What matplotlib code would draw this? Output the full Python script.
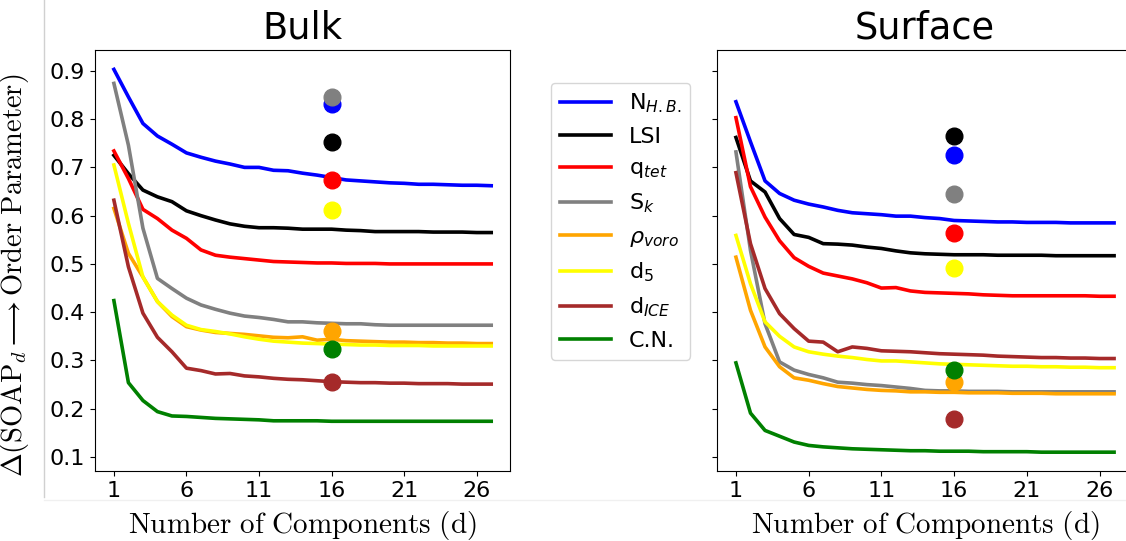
import matplotlib
matplotlib.use("Agg")
import matplotlib.pyplot as plt
from matplotlib.lines import Line2D

# Number of components
d = list(range(1, 28))
ticks_x = [1, 6, 11, 16, 21, 26]
ticks_y = [0.1, 0.2, 0.3, 0.4, 0.5, 0.6, 0.7, 0.8, 0.9]
d_marker = 16

names = ["N$_{H.B.}$", "LSI", "q$_{tet}$", "S$_k$", r"$\rho_{voro}$", "d$_5$", "d$_{ICE}$", "C.N."]
colors = ["blue", "black", "red", "gray", "orange", "yellow", "brown", "green"]

# Bulk curves
bulk_nhb = [0.903, 0.846, 0.791, 0.765, 0.748, 0.730, 0.721, 0.713, 0.707, 0.700, 0.700, 0.694, 0.693, 0.688,
            0.684, 0.679, 0.674, 0.672, 0.670, 0.668, 0.667, 0.665, 0.665, 0.664, 0.663, 0.663, 0.662]
bulk_lsi = [0.725, 0.687, 0.653, 0.639, 0.629, 0.610, 0.600, 0.591, 0.583, 0.578, 0.575, 0.575, 0.574, 0.572,
            0.572, 0.572, 0.570, 0.569, 0.567, 0.567, 0.567, 0.567, 0.566, 0.566, 0.566, 0.565, 0.565]
bulk_qtet = [0.734, 0.677, 0.613, 0.594, 0.570, 0.553, 0.529, 0.518, 0.514, 0.511, 0.508, 0.505, 0.504, 0.503,
             0.502, 0.502, 0.501, 0.501, 0.501, 0.500, 0.500, 0.500, 0.500, 0.500, 0.500, 0.500, 0.500]
bulk_sk = [0.874, 0.746, 0.574, 0.470, 0.449, 0.429, 0.415, 0.406, 0.398, 0.392, 0.389, 0.385, 0.380, 0.380,
           0.378, 0.377, 0.376, 0.376, 0.374, 0.373, 0.373, 0.373, 0.373, 0.373, 0.373, 0.373, 0.373]
bulk_rho = [0.615, 0.522, 0.473, 0.422, 0.391, 0.370, 0.363, 0.358, 0.356, 0.354, 0.351, 0.348, 0.347, 0.349,
            0.342, 0.344, 0.341, 0.340, 0.339, 0.338, 0.338, 0.337, 0.337, 0.336, 0.336, 0.335, 0.335]
bulk_d5 = [0.705, 0.584, 0.473, 0.422, 0.394, 0.373, 0.364, 0.360, 0.355, 0.349, 0.344, 0.340, 0.338, 0.336,
           0.335, 0.334, 0.333, 0.332, 0.332, 0.331, 0.331, 0.331, 0.330, 0.330, 0.330, 0.330, 0.330]
bulk_dice = [0.632, 0.494, 0.398, 0.348, 0.318, 0.284, 0.279, 0.272, 0.273, 0.268, 0.266, 0.263, 0.261, 0.260,
             0.258, 0.256, 0.255, 0.254, 0.254, 0.253, 0.253, 0.252, 0.252, 0.252, 0.251, 0.251, 0.251]
bulk_cn = [0.424, 0.254, 0.217, 0.194, 0.185, 0.184, 0.182, 0.180, 0.179, 0.178, 0.177, 0.175, 0.175, 0.175,
           0.175, 0.174, 0.174, 0.174, 0.174, 0.174, 0.174, 0.174, 0.174, 0.174, 0.174, 0.174, 0.174]
bulk_points = [0.832, 0.753, 0.673, 0.846, 0.361, 0.612, 0.256, 0.323]

# Surface curves
surf_nhb = [0.836, 0.753, 0.672, 0.646, 0.632, 0.624, 0.618, 0.611, 0.606, 0.604, 0.602, 0.599, 0.599, 0.596,
            0.594, 0.590, 0.589, 0.588, 0.587, 0.587, 0.586, 0.586, 0.586, 0.585, 0.585, 0.585, 0.585]
surf_lsi = [0.762, 0.672, 0.649, 0.594, 0.561, 0.555, 0.542, 0.541, 0.539, 0.535, 0.532, 0.527, 0.523, 0.521,
            0.520, 0.519, 0.519, 0.519, 0.518, 0.518, 0.518, 0.518, 0.517, 0.517, 0.517, 0.517, 0.517]
surf_qtet = [0.803, 0.660, 0.597, 0.548, 0.513, 0.495, 0.481, 0.475, 0.469, 0.461, 0.450, 0.451, 0.444, 0.441,
             0.440, 0.439, 0.438, 0.436, 0.435, 0.434, 0.434, 0.434, 0.434, 0.434, 0.434, 0.433, 0.433]
surf_sk = [0.732, 0.528, 0.376, 0.297, 0.280, 0.271, 0.264, 0.255, 0.253, 0.250, 0.248, 0.245, 0.242, 0.238,
           0.237, 0.237, 0.236, 0.236, 0.236, 0.235, 0.235, 0.235, 0.235, 0.235, 0.235, 0.235, 0.235]
surf_rho = [0.514, 0.404, 0.328, 0.287, 0.264, 0.259, 0.252, 0.246, 0.243, 0.240, 0.238, 0.237, 0.235, 0.235,
            0.234, 0.234, 0.233, 0.233, 0.233, 0.232, 0.232, 0.232, 0.231, 0.231, 0.231, 0.231, 0.231]
surf_d5 = [0.559, 0.459, 0.380, 0.350, 0.328, 0.318, 0.313, 0.309, 0.306, 0.302, 0.299, 0.299, 0.297, 0.295,
           0.293, 0.292, 0.291, 0.290, 0.289, 0.288, 0.288, 0.287, 0.287, 0.286, 0.286, 0.285, 0.285]
surf_dice = [0.689, 0.542, 0.449, 0.397, 0.366, 0.340, 0.338, 0.318, 0.328, 0.325, 0.320, 0.319, 0.318, 0.316,
             0.314, 0.313, 0.312, 0.311, 0.309, 0.308, 0.307, 0.306, 0.306, 0.305, 0.305, 0.304, 0.304]
surf_cn = [0.295, 0.191, 0.155, 0.143, 0.131, 0.124, 0.121, 0.119, 0.117, 0.116, 0.115, 0.114, 0.113, 0.113,
           0.112, 0.112, 0.112, 0.111, 0.111, 0.111, 0.111, 0.110, 0.110, 0.110, 0.110, 0.110, 0.110]
surf_points = [0.725, 0.765, 0.564, 0.644, 0.256, 0.492, 0.179, 0.280]

bulk = [bulk_nhb, bulk_lsi, bulk_qtet, bulk_sk, bulk_rho, bulk_d5, bulk_dice, bulk_cn]
surf = [surf_nhb, surf_lsi, surf_qtet, surf_sk, surf_rho, surf_d5, surf_dice, surf_cn]

fig = plt.figure(figsize=(11.26, 5.41), dpi=100)
ax1 = fig.add_axes([0.0844, 0.1294, 0.3686, 0.778])
ax2 = fig.add_axes([0.6368, 0.1294, 0.3694, 0.778], sharey=ax1)

for ax, curves, points, title in [(ax1, bulk, bulk_points, "Bulk"), (ax2, surf, surf_points, "Surface")]:
    for y, c in zip(curves, colors):
        ax.plot(d, y, color=c, lw=2.6)
    for p, c in zip(points, colors):
        ax.plot([d_marker], [p], "o", color=c, ms=12, zorder=3)
    ax.set_title(title, fontsize=26.5, pad=8)
    ax.set_xticks(ticks_x)
    ax.tick_params(labelsize=16)
    ax.set_xlabel(r"$\mathrm{Number\ of\ Components\ (d)}$", fontsize=21, math_fontfamily="cm", labelpad=6)

ax1.set_yticks(ticks_y)
ax1.set_ylim(0.071, 0.943)
ax2.tick_params(labelleft=False)
ax1.set_ylabel(r"$\Delta(\mathrm{SOAP}_d \longrightarrow \mathrm{Order\ Parameter})$",
               fontsize=20.5, math_fontfamily="cm")
ax1.yaxis.set_label_coords(-0.154, 0.465)

handles = [Line2D([], [], color=c, lw=2.6) for c in colors]
fig.legend(handles, names, loc="upper left", bbox_to_anchor=(551 / 1126, 1 - 82.7 / 541),
           fontsize=16, handlelength=2.3, labelspacing=0.52, borderaxespad=0)

# faint separator lines from the original layout
fig.add_artist(Line2D([44 / 1126, 44 / 1126], [1 - 497 / 541, 1.0], color="#d0d0d0", lw=1))
fig.add_artist(Line2D([44 / 1126, 1.0], [1 - 500 / 541, 1 - 500 / 541], color="#f0f0f0", lw=1))

fig.savefig("out.png", dpi=100)
